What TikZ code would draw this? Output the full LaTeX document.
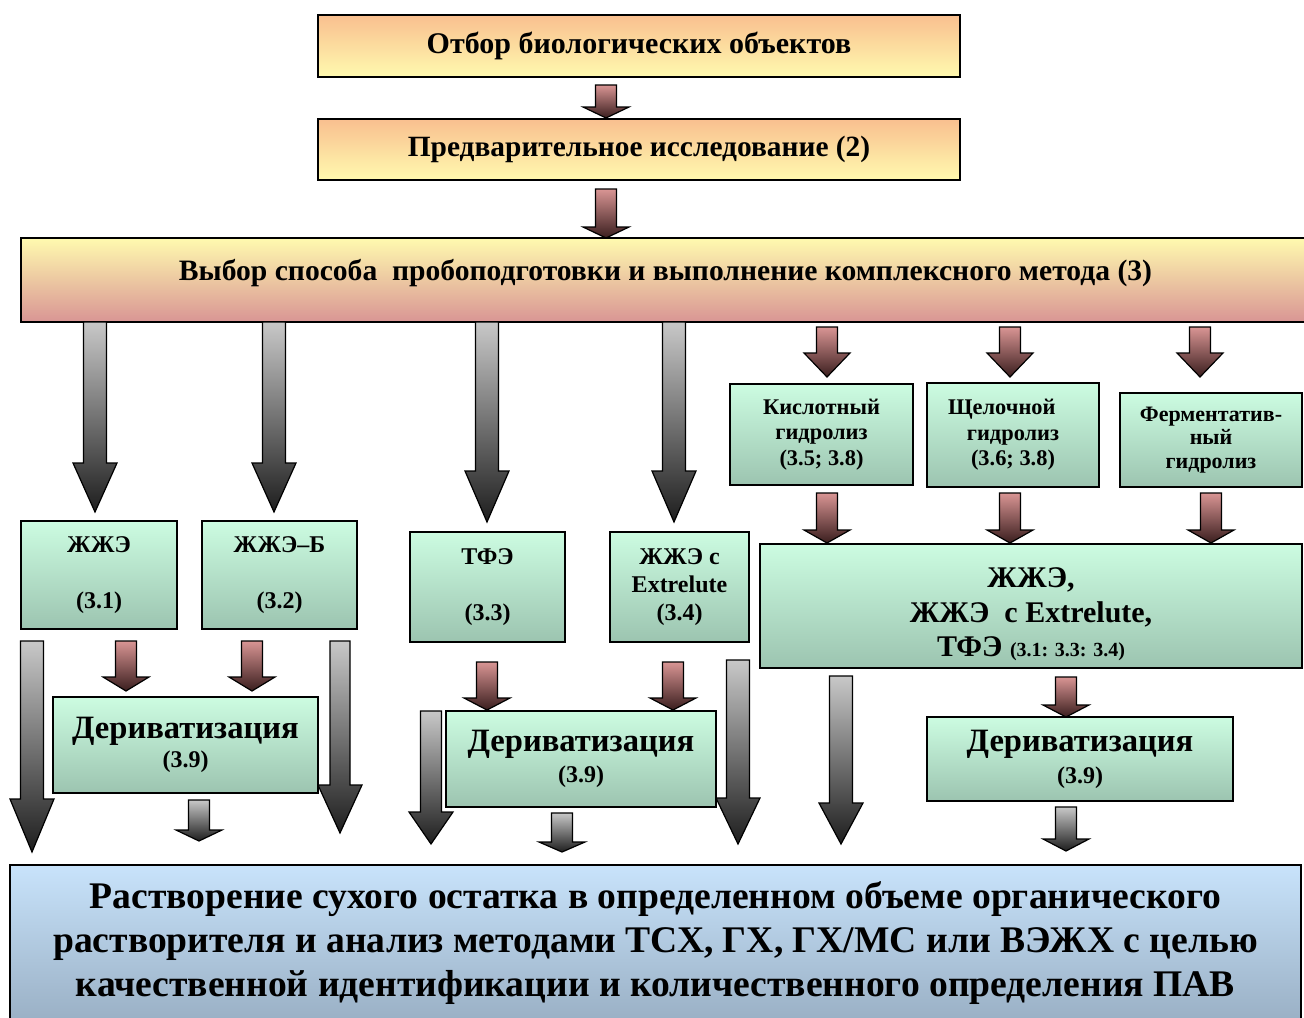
\documentclass[tikz,border=0pt]{standalone}
\usepackage{fontspec}
\setmainfont{Liberation Serif}
\usetikzlibrary{calc}

\definecolor{peach}{HTML}{F9BF8F}
\definecolor{paleyel}{HTML}{FFFAAF}
\definecolor{rose}{HTML}{D99594}
\definecolor{mint}{HTML}{CCFCE1}
\definecolor{sage}{HTML}{9CC4B0}
\definecolor{skyb}{HTML}{C8E3FB}
\definecolor{steel}{HTML}{9AB0C5}
\definecolor{maroon}{HTML}{3A1E1E}
\definecolor{lightgr}{HTML}{C8C8C8}
\definecolor{darkgr}{HTML}{1E1E1E}

\tikzset{
  arr shaft/.store in=\arrshaft, arr head/.store in=\arrhead, arr len/.store in=\arrlen,
  fat/.style={to path={let \p1=(\tikztostart), \p2=(\tikztotarget) in
      (\x1-\arrshaft,\y1) -- (\x1-\arrshaft,\y2+\arrlen) -- (\x1-\arrhead,\y2+\arrlen)
      -- (\x1,\y2) -- (\x1+\arrhead,\y2+\arrlen) -- (\x1+\arrshaft,\y2+\arrlen)
      -- (\x1+\arrshaft,\y1) -- cycle}},
  redarr/.style={fat, draw=black, line width=0.6pt, top color=rose, bottom color=maroon,
      arr shaft=5.25pt, arr head=11.5pt, arr len=#1},
  grayarr/.style={fat, draw=black, line width=0.6pt, top color=lightgr, bottom color=darkgr,
      arr shaft=5.75pt, arr head=11pt, arr len=#1},
  smallarr/.style={grayarr=#1, arr shaft=5.25pt, arr head=11.5pt},
  box/.style={draw=black, line width=1pt, align=center, inner sep=1pt},
  yelbox/.style={box, top color=peach, bottom color=paleyel},
  pinkbox/.style={box, top color=paleyel, bottom color=rose},
  greenbox/.style={box, top color=mint, bottom color=sage},
  bluebox/.style={box, top color=skyb, bottom color=steel}
}

\begin{document}
\begin{tikzpicture}[x=0.5pt, y=-0.5pt]
\useasboundingbox (0,0) rectangle (1304,1017);

% main chain
\node[yelbox, minimum width=321pt, minimum height=31pt,
      font=\bfseries\fontsize{15}{18}\selectfont] (A) at (639,46) {Отбор биологических объектов};
\node[yelbox, minimum width=321pt, minimum height=30.5pt,
      font=\bfseries\fontsize{14.7}{18}\selectfont] (B) at (639,149.5) {Предварительное исследование (2)};
\node[pinkbox, minimum width=644.5pt, minimum height=42pt, text height=10.5pt, text depth=10.5pt,
      font=\bfseries\fontsize{14.8}{17}\selectfont] (C) at (665.5,280)
      {Выбор способа\ \ пробоподготовки и выполнение комплексного метода (3)};

% extraction methods
\node[greenbox, minimum width=78pt, minimum height=54pt,
      font=\bfseries\fontsize{12}{14.4}\selectfont] (zhe) at (99,575) {ЖЖЭ\\[13.5pt](3.1)};
\node[greenbox, minimum width=77.5pt, minimum height=54pt,
      font=\bfseries\fontsize{12}{14.4}\selectfont] (zheb) at (279.5,575) {ЖЖЭ--Б\\[13.5pt](3.2)};
\node[greenbox, minimum width=77.5pt, minimum height=55pt,
      font=\bfseries\fontsize{12}{14.4}\selectfont] (tfe) at (487.5,587) {ТФЭ\\[14pt](3.3)};
\node[greenbox, minimum width=69.5pt, minimum height=55pt,
      font=\bfseries\fontsize{12}{14}\selectfont] (ext) at (679.5,587) {ЖЖЭ с\\Extrelute\\(3.4)};

% hydrolysis
\node[greenbox, minimum width=91.5pt, minimum height=50.5pt,
      font=\bfseries\fontsize{11.2}{12.75}\selectfont] (kisl) at (821.5,434.5)
      {Кислотный\\гидролиз\\(3.5; 3.8)};
\node[greenbox, minimum width=86pt, minimum height=52pt,
      font=\bfseries\fontsize{11.2}{12.75}\selectfont] (shch) at (1013,435)
      {Щелочной\hspace*{1em}\\гидролиз\\(3.6; 3.8)};
\node[greenbox, minimum width=91pt, minimum height=47pt,
      font=\bfseries\fontsize{11}{11.75}\selectfont] (ferm) at (1211,440)
      {Ферментатив-\\ный\\гидролиз};
\node[greenbox, minimum width=271pt, minimum height=62pt,
      font=\bfseries\fontsize{15}{17.25}\selectfont] (big) at (1031,606)
      {\rule{0pt}{18.5pt}ЖЖЭ,\\ЖЖЭ\ \ с Extrelute,\\ТФЭ {\fontsize{10}{12}\selectfont (3.1: 3.3: 3.4)}};

% derivatization
\node[greenbox, minimum width=132.5pt, minimum height=48pt,
      font=\bfseries\fontsize{12}{14.5}\selectfont] (der1) at (185.5,745)
      {{\fontsize{16.3}{18}\selectfont Дериватизация}\\(3.9)};
\node[greenbox, minimum width=135pt, minimum height=48pt,
      font=\bfseries\fontsize{12}{15.5}\selectfont] (der2) at (581,759)
      {{\fontsize{16.3}{18}\selectfont Дериватизация}\\(3.9)};
\node[greenbox, minimum width=153pt, minimum height=42pt,
      font=\bfseries\fontsize{12}{16}\selectfont] (der3) at (1080,759)
      {{\fontsize{16.3}{18}\selectfont Дериватизация}\\(3.9)};

% final step
\node[bluebox, minimum width=645.5pt, minimum height=78pt,
      font=\bfseries\fontsize{18.8}{22}\selectfont] (fin) at (655.5,943)
      {Растворение сухого остатка в определенном объеме органического\\
       растворителя и анализ методами ТСХ, ГХ, ГХ/МС или ВЭЖХ с целью\\
       качественной идентификации и количественного определения ПАВ};

% arrow ends
\coordinate (r1a) at (606,85);   \coordinate (r1b) at (606,118);
\coordinate (r2a) at (606,189);  \coordinate (r2b) at (606,238);
\coordinate (g1a) at (95,322);   \coordinate (g1b) at (95,512);
\coordinate (g2a) at (274,322);  \coordinate (g2b) at (274,512);
\coordinate (g3a) at (487,322);  \coordinate (g3b) at (487,522);
\coordinate (g4a) at (674,322);  \coordinate (g4b) at (674,522);
\coordinate (r3a) at (827,327);  \coordinate (r3b) at (827,377);
\coordinate (r4a) at (1010,327); \coordinate (r4b) at (1010,377);
\coordinate (r5a) at (1200,327); \coordinate (r5b) at (1200,377);
\coordinate (r6a) at (827,493);  \coordinate (r6b) at (827,543);
\coordinate (r7a) at (1010,493); \coordinate (r7b) at (1010,543);
\coordinate (r8a) at (1211,493); \coordinate (r8b) at (1211,543);
\coordinate (g5a) at (32,641);   \coordinate (g5b) at (32,852);
\coordinate (r9a) at (126,641);  \coordinate (r9b) at (126,691);
\coordinate (r10a) at (252,641); \coordinate (r10b) at (252,691);
\coordinate (g6a) at (340,641);  \coordinate (g6b) at (340,833);
\coordinate (g7a) at (199,800);  \coordinate (g7b) at (199,841);
\coordinate (r11a) at (487,662); \coordinate (r11b) at (487,710);
\coordinate (r12a) at (673,662); \coordinate (r12b) at (673,710);
\coordinate (g8a) at (431,711);  \coordinate (g8b) at (431,844);
\coordinate (g9a) at (738,660);  \coordinate (g9b) at (738,844);
\coordinate (g10a) at (562,813); \coordinate (g10b) at (562,852);
\coordinate (g11a) at (841,676); \coordinate (g11b) at (841,844);
\coordinate (r13a) at (1066,677); \coordinate (r13b) at (1066,717);
\coordinate (g12a) at (1066,807); \coordinate (g12b) at (1066,851);

% arrows
\path[redarr=5.5pt] (r1a) to (r1b);
\path[redarr=5.5pt] (r2a) to (r2b);
\path[grayarr=24.5pt] (g1a) to (g1b);
\path[grayarr=24.5pt] (g2a) to (g2b);
\path[grayarr=25.5pt] (g3a) to (g3b);
\path[grayarr=25.5pt] (g4a) to (g4b);
\path[redarr=12pt] (r3a) to (r3b);
\path[redarr=12pt] (r4a) to (r4b);
\path[redarr=12pt] (r5a) to (r5b);
\path[redarr=6.5pt] (r6a) to (r6b);
\path[redarr=6.5pt] (r7a) to (r7b);
\path[redarr=6.5pt] (r8a) to (r8b);
\path[grayarr=26.5pt] (g5a) to (g5b);
\path[redarr=7pt] (r9a) to (r9b);
\path[redarr=7pt] (r10a) to (r10b);
\path[grayarr=24pt, arr shaft=5pt] (g6a) to (g6b);
\path[smallarr=5.5pt] (g7a) to (g7b);
\path[redarr=6pt] (r11a) to (r11b);
\path[redarr=6pt] (r12a) to (r12b);
\path[grayarr=16pt, arr shaft=5.25pt] (g8a) to (g8b);
\path[grayarr=23pt] (g9a) to (g9b);
\path[smallarr=5pt] (g10a) to (g10b);
\path[grayarr=20.5pt] (g11a) to (g11b);
\path[redarr=6pt] (r13a) to (r13b);
\path[smallarr=6pt] (g12a) to (g12b);
\end{tikzpicture}
\end{document}
